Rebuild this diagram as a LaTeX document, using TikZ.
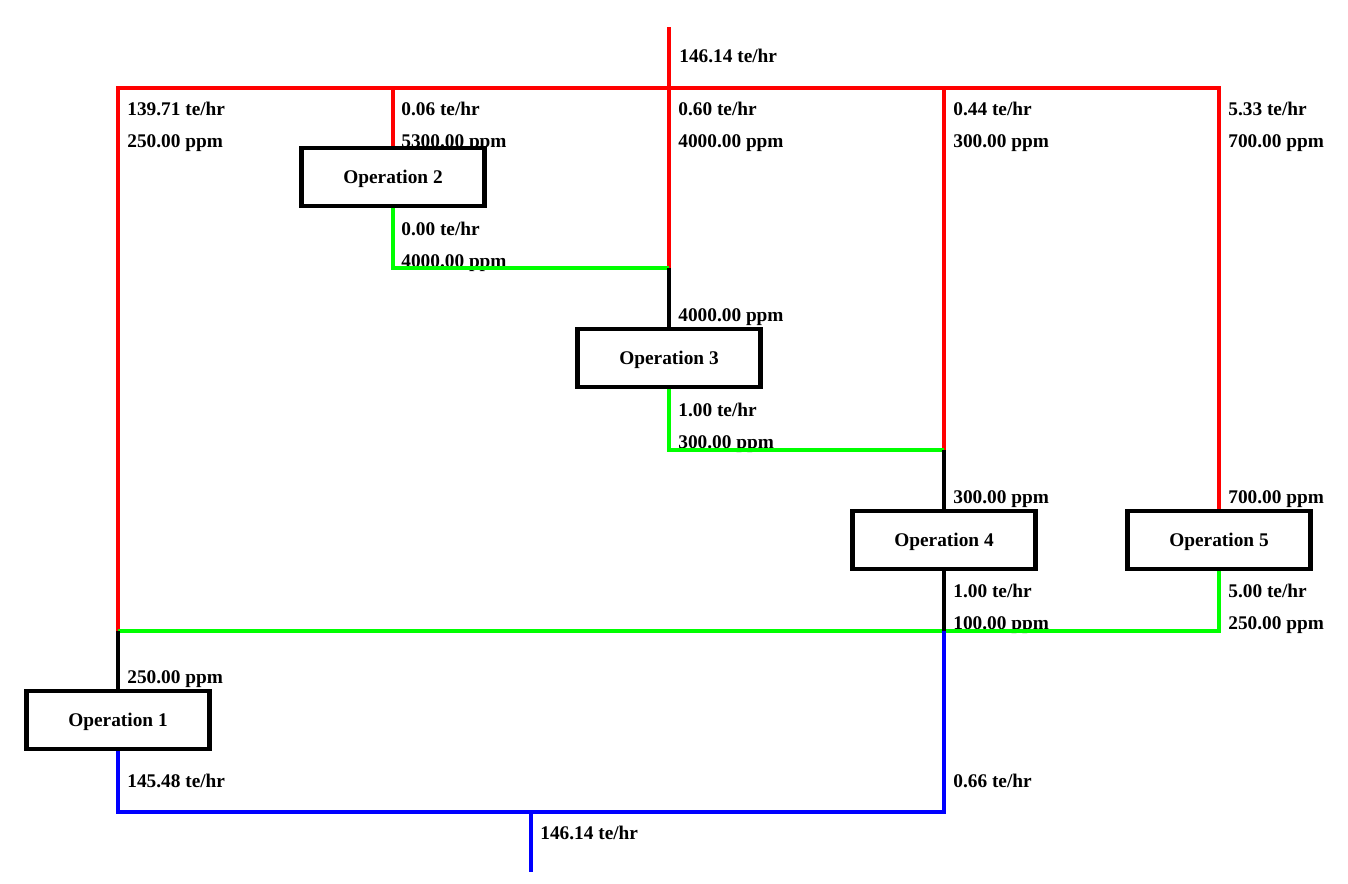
\documentclass[tikz,border=0pt]{standalone}
\usepackage{fontspec}
\setmainfont{Liberation Serif}
\usetikzlibrary{positioning, backgrounds}

\begin{document}
\begin{tikzpicture}[
    x=0.02cm, y=-0.02cm,
    op/.style={rectangle, draw=black, line width=2.4pt, fill=white, minimum width=3.66cm, minimum height=1.17cm, inner sep=0pt, text depth=0pt, font=\fontsize{11}{13}\selectfont\bfseries},
    lbl/.style={anchor=base west, inner sep=0pt, font=\fontsize{11}{13}\selectfont\bfseries},
    fresh/.style={red, line width=2.1pt},
    reuse/.style={green, line width=2.1pt},
    waste/.style={blue, line width=2.1pt},
    mixed/.style={black, line width=2.1pt},
]
\useasboundingbox (0,0) rectangle (1348,883);

% Operations
\node[op] (op1) at (118,720) {Operation 1};
\node[op] (op2) at (393,177) {Operation 2};
\node[op] (op3) at (669,358) {Operation 3};
\node[op] (op4) at (944,540) {Operation 4};
\node[op] (op5) at (1219,540) {Operation 5};

% Junctions
\coordinate (src) at (669,27);
\coordinate (h1) at (118,88);
\coordinate (h2) at (393,88);
\coordinate (h3) at (669,88);
\coordinate (h4) at (944,88);
\coordinate (h5) at (1219,88);
\coordinate (g2) at (393,268);
\coordinate (m3) at (669,268);
\coordinate (g3) at (669,450);
\coordinate (m4) at (944,450);
\coordinate (m1) at (118,631);
\coordinate (j4) at (944,631);
\coordinate (g5) at (1219,631);
\coordinate (b1) at (118,812);
\coordinate (b4) at (944,812);
\coordinate (sink) at (531,812);
\coordinate (out) at (531,872);

% Fresh water header
\draw[fresh] (src) -- (h3);
\draw[fresh] (m1) -- (h1) -- (h5) -- (op5.north);
\draw[fresh] (h2) -- (op2.north);
\draw[fresh] (h3) -- (m3);
\draw[fresh] (h4) -- (m4);

% Reuse streams
\draw[reuse] (op2.south) -- (g2) -- (m3);
\draw[reuse] (op3.south) -- (g3) -- (m4);
\draw[reuse] (op5.south) -- (g5) -- (m1);

% Mixed inlets
\draw[mixed] (m3) -- (op3.north);
\draw[mixed] (m4) -- (op4.north);
\draw[mixed] (m1) -- (op1.north);
\draw[mixed] (op4.south) -- (j4);

% Wastewater
\draw[waste] (j4) -- (b4) -- (b1) -- (op1.south);
\draw[waste] (sink) -- (out);

% Flow labels
\begin{pgfonlayer}{background}
\node[lbl] (fsrc) at (679,62) {146.14 te/hr};
\node[lbl] (f1) at (127,115) {139.71 te/hr};
\node[lbl] (c1) at (127,147) {250.00 ppm};
\node[lbl] (f2) at (401,115) {0.06 te/hr};
\node[lbl] (c2) at (401,147) {5300.00 ppm};
\node[lbl] (f3) at (678,115) {0.60 te/hr};
\node[lbl] (c3) at (678,147) {4000.00 ppm};
\node[lbl] (f4) at (953,115) {0.44 te/hr};
\node[lbl] (c4) at (953,147) {300.00 ppm};
\node[lbl] (f5) at (1228,115) {5.33 te/hr};
\node[lbl] (c5) at (1228,147) {700.00 ppm};
\node[lbl] (fo2) at (401,235) {0.00 te/hr};
\node[lbl] (co2) at (401,267) {4000.00 ppm};
\node[lbl] (ci3) at (678,321) {4000.00 ppm};
\node[lbl] (fo3) at (678,416) {1.00 te/hr};
\node[lbl] (co3) at (678,448) {300.00 ppm};
\node[lbl] (ci4) at (953,503) {300.00 ppm};
\node[lbl] (ci5) at (1228,503) {700.00 ppm};
\node[lbl] (fo4) at (953,597) {1.00 te/hr};
\node[lbl] (co4) at (953,629) {100.00 ppm};
\node[lbl] (fo5) at (1228,597) {5.00 te/hr};
\node[lbl] (co5) at (1228,629) {250.00 ppm};
\node[lbl] (ci1) at (127,683) {250.00 ppm};
\node[lbl] (fo1) at (127,787) {145.48 te/hr};
\node[lbl] (fw4) at (953,787) {0.66 te/hr};
\node[lbl] (fout) at (540,839) {146.14 te/hr};
\end{pgfonlayer}

\end{tikzpicture}
\end{document}
